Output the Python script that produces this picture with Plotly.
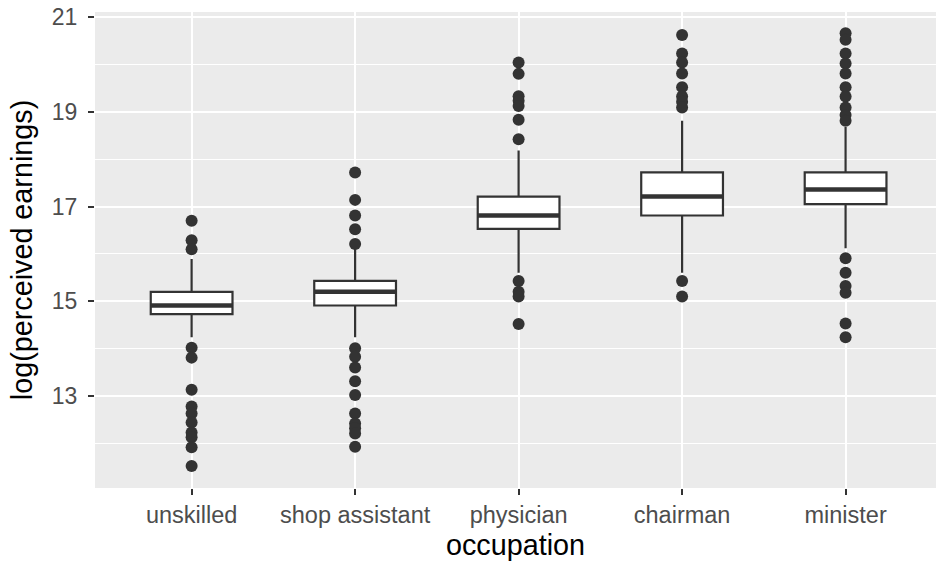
import plotly.graph_objects as go

# Occupations on the x axis
occupations = ["unskilled", "shop assistant", "physician", "chairman", "minister"]

# Box statistics of log(perceived earnings) per occupation
q1 = [14.73, 14.91, 16.53, 16.81, 17.05]
medians = [14.91, 15.20, 16.81, 17.21, 17.36]
q3 = [15.20, 15.43, 17.21, 17.72, 17.72]
lower_whisker = [14.24, 14.24, 15.60, 15.60, 16.12]
upper_whisker = [15.89, 16.12, 18.18, 18.81, 18.68]

# Outlying observations per occupation
outliers_unskilled = [16.70, 16.29, 16.10, 14.02, 13.81, 13.13, 12.78, 12.63,
                      12.44, 12.23, 12.13, 11.92, 11.52]
outliers_shop = [17.72, 17.14, 16.81, 16.52, 16.21, 14.01, 13.83, 13.60, 13.31,
                 13.02, 12.63, 12.42, 12.32, 12.21, 11.93]
outliers_physician = [20.04, 19.80, 19.33, 19.23, 19.12, 18.83, 18.42,
                      15.43, 15.20, 15.10, 14.52]
outliers_chairman = [20.62, 20.23, 20.04, 19.81, 19.52, 19.32, 19.21, 19.09,
                     15.43, 15.10]
outliers_minister = [20.66, 20.52, 20.23, 20.02, 19.81, 19.52, 19.32, 19.09,
                     18.93, 18.81, 15.91, 15.60, 15.32, 15.18, 14.53, 14.24]

y_ticks = [13, 15, 17, 19, 21]

outlier_groups = [outliers_unskilled, outliers_shop, outliers_physician,
                  outliers_chairman, outliers_minister]

INK = "#333333"
BOX_WIDTH = 0.5
positions = list(range(len(occupations)))

fig = go.Figure()

fig.add_trace(go.Box(
    x=positions,
    q1=q1, median=medians, q3=q3,
    lowerfence=lower_whisker, upperfence=upper_whisker,
    width=BOX_WIDTH,
    whiskerwidth=0,
    boxpoints=False,
    fillcolor="white",
    line=dict(color=INK, width=2.2),
    hoverinfo="skip",
    showlegend=False,
))

# Bold median bars drawn over each box
mx, my = [], []
for p, m in zip(positions, medians):
    mx += [p - BOX_WIDTH / 2, p + BOX_WIDTH / 2, None]
    my += [m, m, None]
fig.add_trace(go.Scatter(
    x=mx, y=my, mode="lines",
    line=dict(color=INK, width=4.4),
    hoverinfo="skip", showlegend=False,
))

# Outlier points
ox, oy = [], []
for p, group in zip(positions, outlier_groups):
    ox += [p] * len(group)
    oy += group
fig.add_trace(go.Scatter(
    x=ox, y=oy, mode="markers",
    marker=dict(color=INK, size=12, line=dict(width=0)),
    showlegend=False,
))

font_family = "Liberation Sans, Arial, Helvetica, sans-serif"

fig.update_layout(
    width=936, height=561,
    margin=dict(l=95, r=0, t=12, b=73),
    paper_bgcolor="white",
    plot_bgcolor="#EBEBEB",
    font=dict(family=font_family, color="#4D4D4D"),
    xaxis=dict(
        range=[-0.591, 4.553],
        tickmode="array", tickvals=positions, ticktext=occupations,
        showgrid=True, gridcolor="white", gridwidth=2.2,
        zeroline=False, showline=False,
        ticks="outside", ticklen=6, tickwidth=2, tickcolor=INK,
        tickfont=dict(size=23.5, color="#4D4D4D"),
        title=dict(text="occupation", font=dict(size=28.75, color="black"),
                   standoff=8),
    ),
    yaxis=dict(
        range=[11.058, 21.106],
        tickmode="array", tickvals=y_ticks,
        ticktext=[str(v) for v in y_ticks],
        showgrid=True, gridcolor="white", gridwidth=2.2,
        minor=dict(dtick=1, tick0=12, showgrid=True, gridcolor="white",
                   gridwidth=1.1, ticks=""),
        zeroline=False, showline=False,
        ticks="outside", ticklen=6, tickwidth=2, tickcolor=INK,
        ticklabelstandoff=6,
        tickfont=dict(size=23, color="#4D4D4D"),
        title=dict(text="log(perceived earnings)",
                   font=dict(size=28.75, color="black"), standoff=10),
    ),
)

fig.write_html("out.html")
